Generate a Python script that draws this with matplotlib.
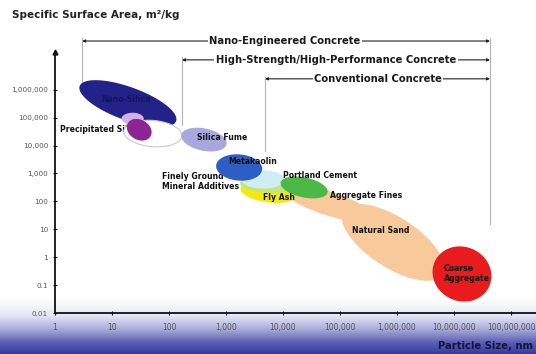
import numpy as np
import matplotlib
matplotlib.use("Agg")
import matplotlib.pyplot as plt
from matplotlib.colors import LinearSegmentedColormap

# Axis ticks: particle size (nm) and specific surface area (m²/kg)
x_ticks = [1, 10, 100, 1e3, 1e4, 1e5, 1e6, 1e7, 1e8]
x_tick_labels = ["1", "10", "100", "1,000", "10,000", "100,000",
                 "1,000,000", "10,000,000", "100,000,000"]
y_ticks = [0.01, 0.1, 1, 10, 100, 1e3, 1e4, 1e5, 1e6]
y_tick_labels = ["0.01", "0.1", "1", "10", "100", "1,000", "10,000",
                 "100,000", "1,000,000"]

# Material regions (drawing order): centre size (nm), centre area (m²/kg),
# width / height in decades of particle size, tilt in degrees
region_names = ["Nano-Silica", "Silica (outline)", "Precipitated (light)",
                "Precipitated Silica", "Silica Fume", "Aggregate Fines",
                "Natural Sand", "Coarse Aggregate", "Fly Ash",
                "Fly Ash (light)", "Mineral Additives", "Portland Cement",
                "Metakaolin"]
region_size = [19, 52, 23, 30, 410, 6.2e4, 8.5e5, 1.38e7, 5.5e3,
               4.8e3, 4.5e3, 2.35e4, 1.7e3]
region_area = [3.2e5, 2.7e4, 9.2e4, 3.7e4, 1.64e4, 85, 3.4, 0.25, 210,
               373, 611, 316, 1.64e3]
region_width = [1.80, 1.02, 0.39, 0.46, 0.81, 1.68, 2.07, 1.05, 0.98,
                0.88, 0.77, 0.84, 0.81]
region_height = [0.58, 0.46, 0.21, 0.35, 0.39, 0.42, 0.88, 0.95, 0.35,
                 0.25, 0.32, 0.35, 0.46]
region_tilt = [-20, -5, 0, -30, -12, -18, -33, -25, -8, -5, 0, -12, -5]
region_colors = ["#222288", "#ffffff", "#d4b0e4", "#8c2494", "#a8a8dc",
                 "#f7c99b", "#f7c99b", "#e81c1c", "#f2ea12", "#c4e47c",
                 "#cfeef2", "#4cb848", "#2e5ec4"]
region_edges = ["none", "#c8c8dc", "none", "none", "none", "none", "none",
                "none", "none", "none", "none", "none", "none"]

# Region labels: text, left edge size (nm), area (m²/kg), layer
label_texts = ["Nano-Silica", "Precipitated Silica", "Silica Fume",
               "Metakaolin", "Finely Ground\nMineral Additives",
               "Portland Cement", "Fly Ash", "Aggregate Fines",
               "Natural Sand", "Coarse\nAggregate"]
label_size = [6.5, 1.22, 310, 1085, 75, 1.0e4, 4.46e3, 6.7e4, 1.62e5, 6.7e6]
label_area = [4.4e5, 3.7e4, 1.93e4, 2.69e3, 518, 848, 139, 164, 9.2, 0.268]
label_layer = [20, 3.5, 20, 20, 12.5, 20, 20, 20, 20, 20]
label_colors = ["#15155a", "#111111", "#111111", "#111111", "#111111",
                "#111111", "#111111", "#111111", "#111111", "#111111"]

# Concrete classes: range start (nm), bracket level (m²/kg), label centre (nm),
# extent of the start marker (m²/kg)
class_names = ["Nano-Engineered Concrete",
               "High-Strength/High-Performance Concrete",
               "Conventional Concrete"]
class_start = [3.0, 169, 4.83e3]
class_level = [5.6e7, 1.18e7, 2.47e6]
class_label_at = [1.08e4, 8.5e4, 4.64e5]
class_marker_top = [7.2e7, 1.5e7, 2.9e6]
class_marker_bottom = [1.2e6, 5.6e4, 6.2e3]
class_end = 4.28e7
class_end_bottom = 15

W, H, DPI = 536, 354, 100
fig = plt.figure(figsize=(W / DPI, H / DPI), dpi=DPI)
fig.patch.set_facecolor("white")

# Blue band along the bottom of the figure (white at top, deep blue at bottom)
band = fig.add_axes([0, 0, 1, 56 / H], zorder=0)
grad_cmap = LinearSegmentedColormap.from_list(
    "band", ["#ffffff", "#e4e4f3", "#a6a9d8", "#5a5fb4", "#373c9b"])
g = np.linspace(0, 1, 256) ** 1.25
band.imshow(g[:, None], aspect="auto", cmap=grad_cmap,
            extent=[0, 1, 0, 1], vmin=0, vmax=1)
band.set_axis_off()

ax = fig.add_axes([55 / W, 41 / H, 481 / W, 283 / H], zorder=1)
ax.patch.set_alpha(0)
ax.set_xscale("log")
ax.set_yscale("log")
xlim = (1, 10 ** (481 / 57))
ylim = (0.01, 10 ** (6 + 60 / 28))
ax.set_xlim(*xlim)
ax.set_ylim(*ylim)

# Screen ratio of one y-decade to one x-decade
x_dec = np.log10(xlim[1] / xlim[0])
y_dec = np.log10(ylim[1] / ylim[0])
k = (283 / y_dec) / (481 / x_dec)


def ellipse_outline(cx, cy, w, h, tilt):
    t = np.linspace(0, 2 * np.pi, 240)
    a = np.deg2rad(tilt)
    dx = 0.5 * w * np.cos(t) * np.cos(a) - 0.5 * h * np.sin(t) * np.sin(a)
    dy = 0.5 * w * np.cos(t) * np.sin(a) + 0.5 * h * np.sin(t) * np.cos(a)
    return 10 ** (np.log10(cx) + dx), 10 ** (np.log10(cy) + dy / k)


for i in range(len(region_names)):
    ex, ey = ellipse_outline(region_size[i], region_area[i], region_width[i],
                             region_height[i], region_tilt[i])
    ax.fill(ex, ey, color=region_colors[i], ec=region_edges[i],
            lw=0.8, zorder=3 + i)

for i, txt in enumerate(label_texts):
    ax.text(label_size[i], label_area[i], txt, fontsize=5.6,
            fontweight="bold", color=label_colors[i], ha="left",
            va="center", linespacing=1.1, zorder=label_layer[i])

# Concrete-class brackets
for i, name in enumerate(class_names):
    ax.plot([class_start[i], class_start[i]],
            [class_marker_top[i], class_marker_bottom[i]],
            color="#b4b4b4", lw=0.8, zorder=2, clip_on=False)
    ax.annotate("", xy=(class_start[i], class_level[i]),
                xytext=(class_end, class_level[i]),
                arrowprops=dict(arrowstyle="<|-|>", color="#222222",
                                lw=0.8, mutation_scale=4,
                                shrinkA=0, shrinkB=0),
                zorder=25, annotation_clip=False)
    ax.text(class_label_at[i], class_level[i], name, fontsize=7.2,
            fontweight="bold", color="#1a1a1a", ha="center", va="center",
            zorder=26,
            bbox=dict(boxstyle="square,pad=0.15", fc="white", ec="none"))
ax.plot([class_end, class_end], [class_marker_top[0], class_end_bottom],
        color="#b4b4b4", lw=0.8, zorder=2, clip_on=False)

# Axes styling
for side in ["top", "right"]:
    ax.spines[side].set_visible(False)
ax.spines["left"].set_bounds(0.01, 10 ** (6 + 38 / 28))
for side in ["left", "bottom"]:
    ax.spines[side].set_linewidth(1.3)
    ax.spines[side].set_color("#111111")
ax.plot([1], [10 ** (6 + 38 / 28)], marker="^", ms=3.5, color="#111111",
        clip_on=False, zorder=30)
ax.minorticks_off()
ax.set_xticks(x_ticks)
ax.set_xticklabels(x_tick_labels)
ax.set_yticks(y_ticks)
ax.set_yticklabels(y_tick_labels)
ax.tick_params(axis="both", direction="inout", length=3, width=0.8,
               colors="#111111", labelcolor="#555555")
ax.tick_params(axis="x", pad=6, labelsize=5.5)
ax.tick_params(axis="y", pad=3.5, labelsize=5.2)

fig.text(12 / W, 1 - 15 / H, "Specific Surface Area, m²/kg", fontsize=7.5,
         fontweight="bold", color="#222222", ha="left", va="center")
fig.text(533 / W, 8 / H, "Particle Size, nm", fontsize=7.2,
         fontweight="bold", color="#14143c", ha="right", va="center",
         zorder=5)

fig.savefig("out.png", dpi=DPI)
